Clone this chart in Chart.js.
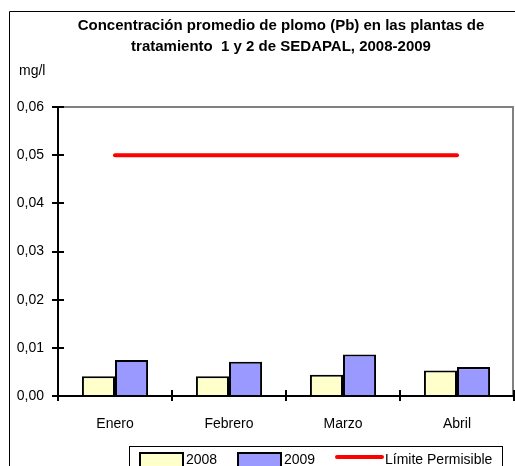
<!DOCTYPE html>
<html>
<head>
<meta charset="utf-8">
<script src="https://cdn.jsdelivr.net/npm/chart.js@4/dist/chart.umd.min.js"></script>
<style>
  html, body { margin: 0; padding: 0; background: #ffffff; }
  #wrap { width: 515px; height: 466px; position: relative; }
</style>
</head>
<body>
<div id="wrap"><canvas id="c" width="515" height="466"></canvas></div>
<script>
// Monthly lead concentration (mg/l) in treatment plants 1 and 2
const months = ['Enero', 'Febrero', 'Marzo', 'Abril'];
const pb2008 = [0.0041, 0.0041, 0.0044, 0.0053];
const pb2009 = [0.0075, 0.0071, 0.0086, 0.0060];
const limite = [0.05, 0.05, 0.05, 0.05];
const yTicks = [0, 0.01, 0.02, 0.03, 0.04, 0.05, 0.06];
const titleLines = ['Concentración promedio de plomo (Pb) en las plantas de',
                    'tratamiento  1 y 2 de SEDAPAL, 2008-2009'];
const unitLabel = 'mg/l';

const FONT = '"Liberation Sans", Arial, sans-serif';

// Frame, title, unit label, crossing tick marks and the legend box
const decor = {
  id: 'decor',
  beforeDraw(chart) {
    const ctx = chart.ctx;
    const a = chart.chartArea;
    ctx.save();
    ctx.fillStyle = '#ffffff';
    ctx.fillRect(0, 0, chart.width, chart.height);
    // outer frame
    ctx.strokeStyle = '#000000';
    ctx.lineWidth = 1;
    ctx.beginPath();
    ctx.moveTo(9.5, chart.height + 2);
    ctx.lineTo(9.5, 11.5);
    ctx.lineTo(chart.width + 2, 11.5);
    ctx.stroke();
    // plot frame (top and right, grey)
    ctx.strokeStyle = '#808080';
    ctx.lineWidth = 2;
    ctx.beginPath();
    ctx.moveTo(a.left, a.top);
    ctx.lineTo(a.right - 1, a.top);
    ctx.lineTo(a.right - 1, a.bottom);
    ctx.stroke();
    // title
    ctx.fillStyle = '#000000';
    ctx.font = 'bold 15px ' + FONT;
    ctx.textAlign = 'center';
    ctx.textBaseline = 'middle';
    ctx.fillText(titleLines[0], 281, 26);
    ctx.fillText(titleLines[1], 281, 47);
    // unit
    ctx.font = '14px ' + FONT;
    ctx.textAlign = 'left';
    ctx.fillText(unitLabel, 19, 71);
    ctx.restore();
  },
  afterDraw(chart) {
    const ctx = chart.ctx;
    const a = chart.chartArea;
    const y = chart.scales.y;
    ctx.save();
    ctx.strokeStyle = '#000000';
    ctx.lineWidth = 2;
    // y axis line and ticks
    ctx.beginPath();
    ctx.moveTo(a.left, a.top);
    ctx.lineTo(a.left, a.bottom + 1);
    yTicks.forEach(v => {
      const py = Math.round(y.getPixelForValue(v));
      ctx.moveTo(a.left - 6, py);
      ctx.lineTo(a.left + 6, py);
    });
    // x axis line and category boundary ticks
    ctx.moveTo(a.left - 1, a.bottom);
    ctx.lineTo(a.right, a.bottom);
    for (let i = 0; i <= months.length; i++) {
      const px = Math.round(a.left + (a.right - a.left) * i / months.length);
      ctx.moveTo(px, a.bottom - 6);
      ctx.lineTo(px, a.bottom + 5);
    }
    ctx.stroke();

    // legend
    const ds = chart.data.datasets;
    ctx.lineWidth = 1;
    ctx.strokeStyle = '#000000';
    ctx.strokeRect(129.5, 446.5, 373, 40);
    ctx.font = '14px ' + FONT;
    ctx.textAlign = 'left';
    ctx.textBaseline = 'middle';
    const items = [
      { sx: 140, tx: 186 },
      { sx: 238, tx: 284 },
      { sx: 337, tx: 385 }
    ];
    ds.forEach((d, i) => {
      const it = items[i];
      if (d.type === 'line') {
        ctx.strokeStyle = d.borderColor;
        ctx.lineWidth = 4;
        ctx.lineCap = 'round';
        ctx.beginPath();
        ctx.moveTo(it.sx, 457);
        ctx.lineTo(it.sx + 45, 457);
        ctx.stroke();
        ctx.lineCap = 'butt';
      } else {
        ctx.fillStyle = d.backgroundColor;
        ctx.fillRect(it.sx, 453, 43, 14);
        ctx.strokeStyle = '#000000';
        ctx.lineWidth = 2;
        ctx.strokeRect(it.sx, 453, 43, 14);
      }
      ctx.fillStyle = '#000000';
      ctx.fillText(d.label, it.tx, 460);
    });
    ctx.restore();
  }
};

new Chart(document.getElementById('c'), {
  data: {
    labels: months,
    datasets: [
      {
        type: 'bar', label: '2008', data: pb2008,
        backgroundColor: '#ffffcc', borderColor: '#000000', borderWidth: 2,
        categoryPercentage: 0.58, barPercentage: 1.0, order: 2
      },
      {
        type: 'bar', label: '2009', data: pb2009,
        backgroundColor: '#9999ff', borderColor: '#000000', borderWidth: 2,
        categoryPercentage: 0.58, barPercentage: 1.0, order: 2
      },
      {
        type: 'line', label: 'Límite Permisible', data: limite,
        borderColor: '#ff0000', borderWidth: 4, pointRadius: 0,
        borderCapStyle: 'round', fill: false, order: 1
      }
    ]
  },
  options: {
    responsive: false,
    animation: false,
    devicePixelRatio: 1,
    layout: { padding: { left: 0, right: 1, top: 107, bottom: 0 } },
    plugins: {
      legend: { display: false },
      title: { display: false },
      tooltip: { enabled: false }
    },
    scales: {
      x: {
        offset: true,
        grid: { display: false },
        border: { display: false },
        ticks: {
          color: '#000000', padding: 12, maxRotation: 0,
          font: { family: FONT, size: 14 }
        },
        afterFit(s) { s.height = 70; }
      },
      y: {
        min: 0, max: 0.06,
        grid: { display: false },
        border: { display: false },
        afterBuildTicks(s) { s.ticks = yTicks.map(v => ({ value: v })); },
        ticks: {
          color: '#000000', padding: 6,
          font: { family: FONT, size: 14 },
          callback: v => Number(v).toFixed(2).replace('.', ',')
        },
        afterFit(s) { s.width = 58; }
      }
    }
  },
  plugins: [decor]
});
</script>
</body>
</html>
